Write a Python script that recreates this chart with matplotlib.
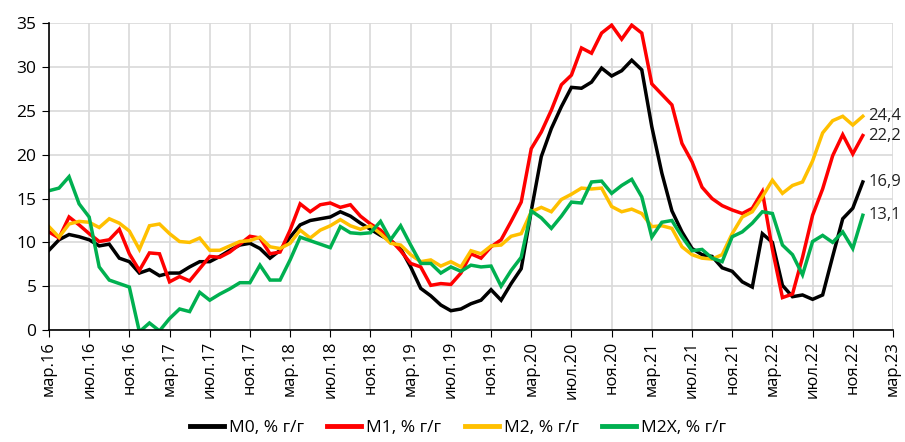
import matplotlib
matplotlib.use("Agg")
import matplotlib.pyplot as plt
import numpy as np

plt.rcParams['font.family'] = ['Open Sans', 'DejaVu Sans']

# months from mar.16 (index 0) to dec.22 (index 81)
m0 = [9.1, 10.3, 10.9, 10.65, 10.3, 9.6, 9.8, 8.2, 7.8, 6.5, 6.9, 6.2, 6.5, 6.5, 7.2, 7.8, 7.8, 8.4, 9.1, 9.7,
      9.9, 9.3, 8.2, 9.1, 10.6, 12.0, 12.5, 12.7, 12.9, 13.5, 13.0, 12.2, 11.5, 10.8, 10.2, 9.3, 7.2, 4.75, 3.9, 2.85,
      2.2, 2.4, 3.0, 3.4, 4.6, 3.4, 5.3, 7.0, 13.6, 19.8, 23.0, 25.5, 27.7, 27.6, 28.3, 29.9, 29.0, 29.6, 30.8, 29.7,
      23.2, 17.9, 13.6, 11.2, 9.3, 8.6, 8.4, 7.1, 6.7, 5.5, 4.9, 11.0, 10.0, 5.1, 3.8, 4.0, 3.5, 4.0, 8.4, 12.7,
      13.9, 16.9]
m1 = [11.2, 10.5, 12.9, 12.0, 11.0, 10.1, 10.3, 11.5, 8.7, 6.8, 8.8, 8.7, 5.5, 6.1, 5.6, 7.0, 8.4, 8.3, 8.9, 9.8,
      10.7, 10.5, 8.7, 8.9, 11.4, 14.4, 13.5, 14.3, 14.5, 14.0, 14.3, 13.0, 12.1, 11.4, 10.3, 9.05, 7.6, 7.2, 5.1, 5.3,
      5.2, 6.5, 8.7, 8.2, 9.5, 10.3, 12.4, 14.6, 20.7, 22.6, 25.1, 28.0, 29.1, 32.2, 31.6, 33.9, 34.8, 33.2, 34.8, 33.9,
      28.1, 26.9, 25.7, 21.3, 19.2, 16.3, 15.0, 14.2, 13.7, 13.3, 13.9, 15.8, 9.2, 3.7, 4.1, 8.3, 13.1, 16.1, 19.9, 22.3,
      20.1, 22.2]
m2 = [11.8, 10.6, 12.1, 12.4, 12.3, 11.7, 12.7, 12.2, 11.3, 9.2, 11.9, 12.1, 11.0, 10.1, 10.0, 10.5, 9.1, 9.1, 9.6, 10.1,
      10.2, 10.6, 9.5, 9.3, 9.9, 11.4, 10.5, 11.4, 11.9, 12.6, 11.9, 11.5, 11.9, 11.0, 9.9, 9.7, 8.6, 7.8, 8.0, 7.3,
      7.8, 7.2, 9.05, 8.7, 9.6, 9.7, 10.7, 11.0, 13.5, 14.0, 13.5, 14.9, 15.5, 16.2, 16.1, 16.2, 14.1, 13.5, 13.8, 13.3,
      11.8, 11.9, 11.6, 9.5, 8.6, 8.2, 8.1, 8.6, 11.0, 12.9, 13.5, 15.2, 17.1, 15.6, 16.5, 16.9, 19.3, 22.5, 23.9, 24.4,
      23.4, 24.4]
m2x = [15.9, 16.2, 17.5, 14.4, 12.9, 7.2, 5.7, 5.3, 4.9, -0.2, 0.8, -0.1, 1.3, 2.4, 2.1, 4.3, 3.4, 4.1, 4.7, 5.4,
       5.4, 7.4, 5.7, 5.7, 8.0, 10.6, 10.2, 9.8, 9.4, 11.8, 11.1, 11.0, 11.1, 12.4, 10.3, 11.9, 9.7, 7.6, 7.6, 6.5,
       7.2, 6.7, 7.4, 7.2, 7.3, 5.0, 6.8, 8.3, 13.6, 12.8, 11.6, 13.0, 14.6, 14.5, 16.9, 17.0, 15.6, 16.5, 17.2, 15.2,
       10.6, 12.3, 12.5, 10.65, 9.05, 9.2, 8.2, 7.8, 10.65, 11.2, 12.2, 13.5, 13.3, 9.7, 8.6, 6.3, 10.1, 10.8, 10.0, 11.2,
       9.3, 13.1]

tick_labels = ['мар.16', 'июл.16', 'ноя.16', 'мар.17', 'июл.17', 'ноя.17', 'мар.18', 'июл.18', 'ноя.18',
               'мар.19', 'июл.19', 'ноя.19', 'мар.20', 'июл.20', 'ноя.20', 'мар.21', 'июл.21', 'ноя.21',
               'мар.22', 'июл.22', 'ноя.22', 'мар.23']
series_names = ['М0, % г/г', 'М1, % г/г', 'М2, % г/г', 'М2Х, % г/г']
colors = ['#000000', '#FF0000', '#FFC000', '#00B050']

fig = plt.figure(figsize=(9.05, 4.42), dpi=100)
ax = fig.add_axes([0.0541, 0.2534, 0.9326, 0.6936])

x = np.arange(len(m0))
lines = []
for data, name, c in zip([m0, m1, m2, m2x], series_names, colors):
    ln, = ax.plot(x, data, color=c, lw=2.5, label=name, solid_joinstyle='miter')
    lines.append(ln)

for data in [m2, m1, m0, m2x]:
    ax.annotate(f"{data[-1]:.1f}".replace('.', ','), xy=(x[-1], data[-1]), xytext=(4, 0),
                textcoords='offset points', va='center', ha='left', fontsize=12, color='#222222')

ax.set_xlim(0, 84)
ax.set_ylim(0, 35)
ax.set_xticks(np.arange(0, 85, 4))
ax.set_xticklabels(tick_labels, rotation=90, fontsize=12)
ax.set_yticks(np.arange(0, 36, 5))
ax.tick_params(axis='y', labelsize=12.5, length=5, color='black', pad=4)
ax.tick_params(axis='x', length=5, color='black', pad=3)
ax.grid(True, color='#D9D9D9', lw=1.2)
ax.set_axisbelow(True)
for s in ['top', 'right']:
    ax.spines[s].set_visible(False)
ax.spines['left'].set_color('black')
ax.spines['bottom'].set_color('black')
ax.spines['left'].set_linewidth(1.2)
ax.spines['bottom'].set_linewidth(1.2)

leg = fig.legend(handles=lines, loc='lower center', bbox_to_anchor=(0.506, -0.022), ncol=4, frameon=False,
                 fontsize=12.5, handlelength=1.95, columnspacing=1.35, handletextpad=0.3)
for h in leg.legend_handles:
    h.set_linewidth(3.5)

fig.savefig('out.png', dpi=100)
